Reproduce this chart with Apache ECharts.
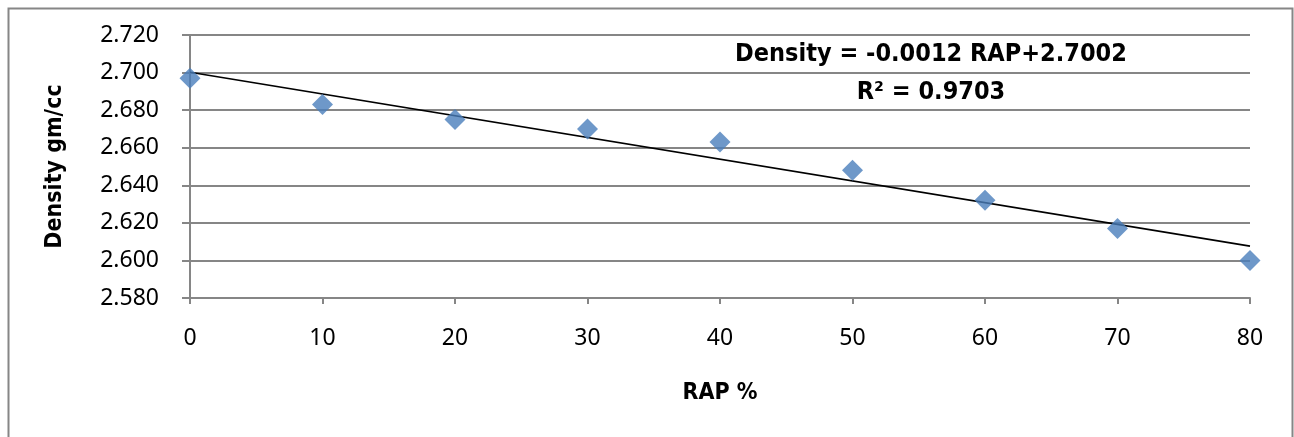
<!DOCTYPE html>
<html>
<head>
<meta charset="utf-8">
<script src="https://cdn.jsdelivr.net/npm/echarts@6/dist/echarts.min.js"></script>
<style>
  html, body { margin: 0; padding: 0; background: #ffffff; }
  #chart { width: 1294px; height: 437px; }
</style>
</head>
<body>
<div id="chart"></div>
<script>
// ---- Data ----
const rapPercent = [0, 10, 20, 30, 40, 50, 60, 70, 80];
const density = [2.697, 2.683, 2.675, 2.670, 2.663, 2.648, 2.632, 2.617, 2.600];
const equationLines = ['Density = -0.0012 RAP+2.7002', 'R² = 0.9703'];
const xAxisTitle = 'RAP %';
const yAxisTitle = 'Density gm/cc';

// Linear trend line (least squares) from the data
const n = rapPercent.length;
const mx = rapPercent.reduce((a, b) => a + b, 0) / n;
const my = density.reduce((a, b) => a + b, 0) / n;
let sxy = 0, sxx = 0;
for (let i = 0; i < n; i++) { sxy += (rapPercent[i] - mx) * (density[i] - my); sxx += (rapPercent[i] - mx) ** 2; }
const slope = sxy / sxx;
const intercept = my - slope * mx;
const xMinT = rapPercent[0], xMaxT = rapPercent[n - 1];
const trend = [[xMinT, intercept + slope * xMinT], [xMaxT, intercept + slope * xMaxT]];

const gray = '#868686';
const boldFont = '"Liberation Sans Narrow", "DejaVu Sans Condensed", "Liberation Sans", sans-serif';
const tickFont = '"Noto Sans", "DejaVu Sans", sans-serif';

const chart = echarts.init(document.getElementById('chart'), null, { renderer: 'canvas' });
chart.setOption({
  backgroundColor: '#ffffff',
  animation: false,
  grid: { left: 190, right: 44, top: 35, bottom: 139 },
  xAxis: {
    type: 'value', min: 0, max: 80, interval: 10,
    name: xAxisTitle, nameLocation: 'middle', nameGap: 84,
    nameTextStyle: { fontFamily: boldFont, fontWeight: 'bold', fontSize: 23, color: '#000' },
    axisLine: { show: true, onZero: false, lineStyle: { color: gray, width: 2 } },
    axisTick: { show: true, length: 6, lineStyle: { color: gray, width: 2 } },
    axisLabel: { margin: 29, fontFamily: tickFont, fontSize: 23, color: '#000' },
    splitLine: { show: false }
  },
  yAxis: {
    type: 'value', min: 2.58, max: 2.72, interval: 0.02,
    name: yAxisTitle, nameLocation: 'middle', nameGap: 123, nameRotate: 90,
    nameTextStyle: { fontFamily: boldFont, fontWeight: 'bold', fontSize: 23, color: '#000' },
    axisLine: { show: true, lineStyle: { color: gray, width: 2 } },
    axisTick: { show: true, length: 8, lineStyle: { color: gray, width: 2 } },
    axisLabel: { margin: 31, fontFamily: tickFont, fontSize: 23, color: '#000',
                 formatter: v => v.toFixed(3) },
    splitLine: { show: true, lineStyle: { color: gray, width: 2 } }
  },
  series: [
    {
      type: 'line', data: trend, showSymbol: false, symbol: 'none',
      lineStyle: { color: '#000', width: 1.6 }, z: 3, silent: true
    },
    {
      type: 'scatter', data: rapPercent.map((x, i) => [x, density[i]]),
      symbol: 'diamond', symbolSize: [21, 21],
      itemStyle: { color: '#4A7EBB' }, z: 4
    }
  ],
  graphic: [
    { type: 'rect', left: 6, top: 6, silent: true,
      shape: { width: 1284, height: 445 },
      style: { fill: 'none', stroke: gray, lineWidth: 2 } },
    { type: 'text', x: 931, y: 54, silent: true,
      style: { text: equationLines[0], fontFamily: boldFont, fontWeight: 'bold', fontSize: 25,
               fill: '#000', textAlign: 'center', textVerticalAlign: 'middle' } },
    { type: 'text', x: 931, y: 92, silent: true,
      style: { text: equationLines[1], fontFamily: boldFont, fontWeight: 'bold', fontSize: 25,
               fill: '#000', textAlign: 'center', textVerticalAlign: 'middle' } }
  ]
});
</script>
</body>
</html>
